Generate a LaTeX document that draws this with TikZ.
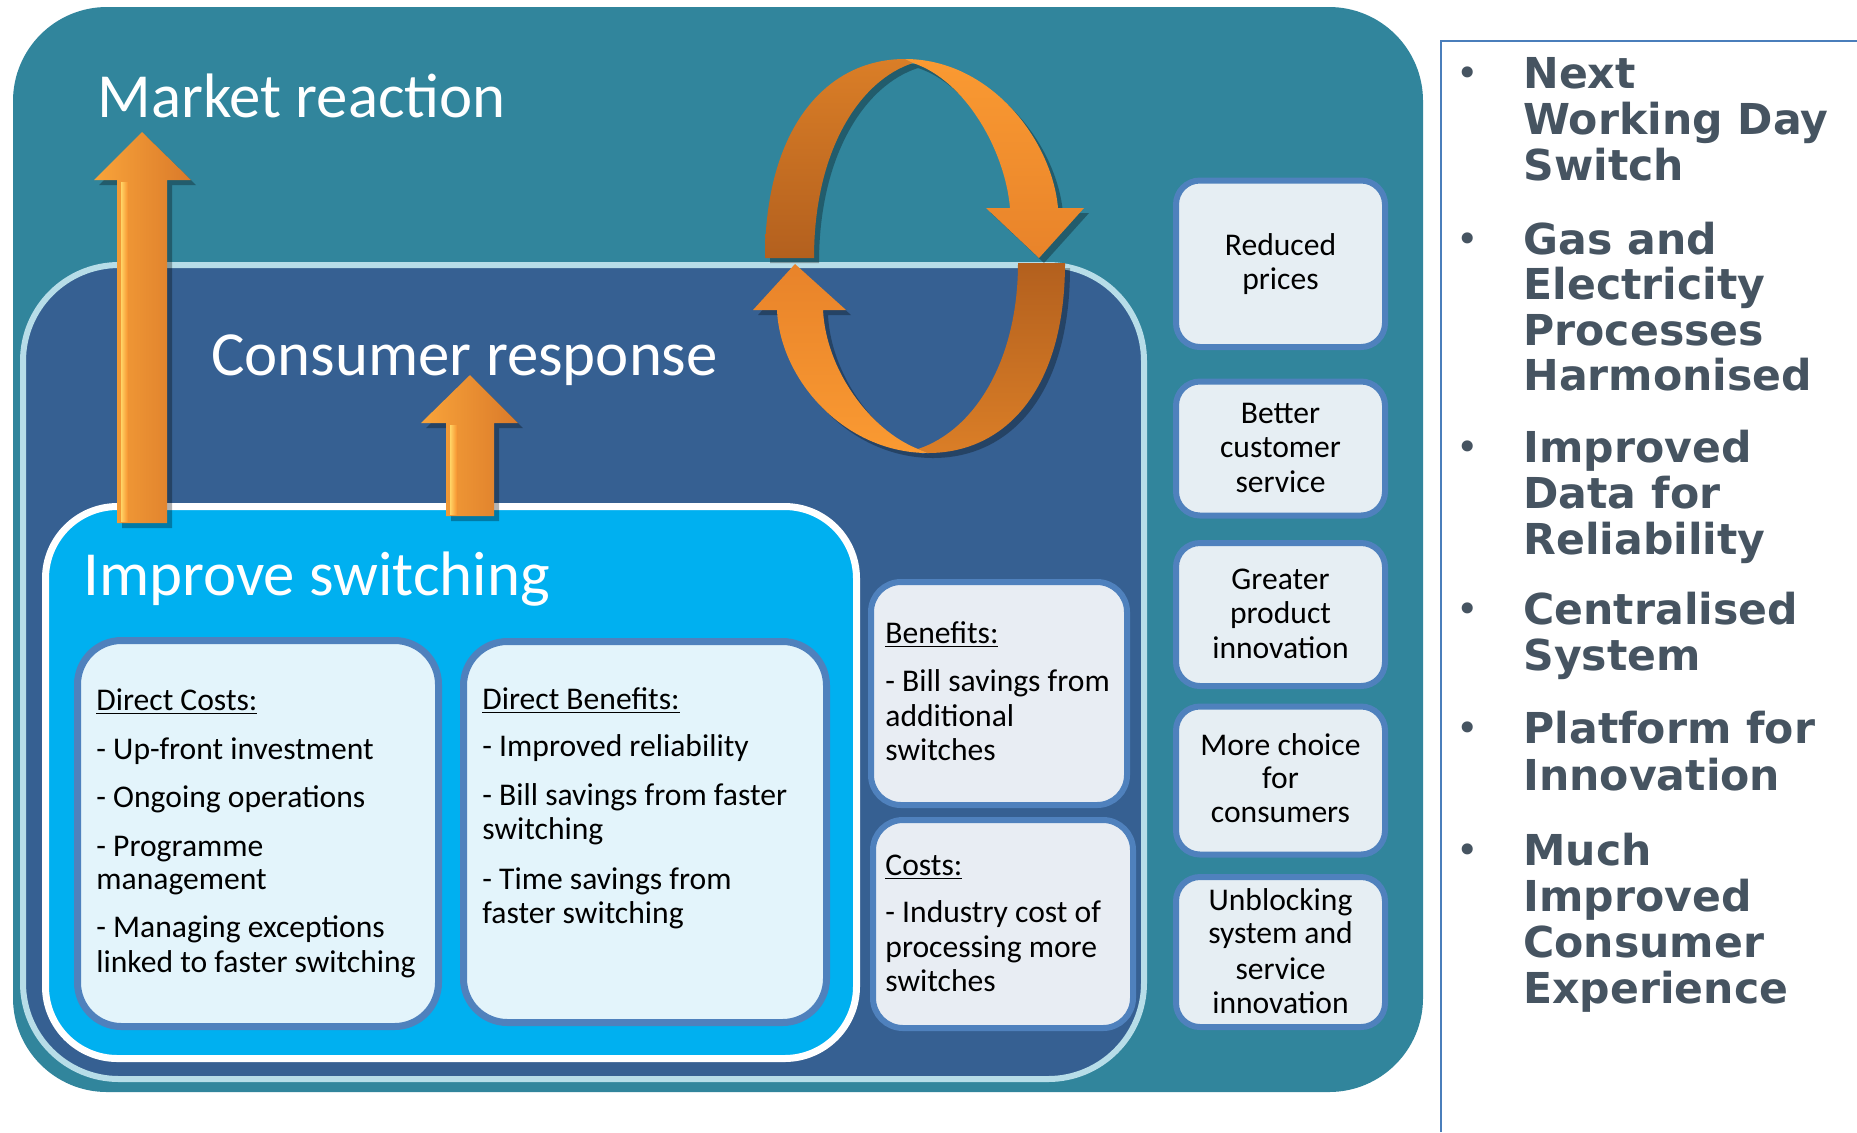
\documentclass[tikz,border=0pt]{standalone}
\usepackage{fontspec}
\setmainfont{Carlito}
\newfontfamily\listfont{DejaVu Sans}
\usetikzlibrary{shadows}

\definecolor{mktteal}{HTML}{31859C}
\definecolor{consfill}{HTML}{366092}
\definecolor{consedge}{HTML}{B7DDE8}
\definecolor{switchfill}{HTML}{00B0F0}
\definecolor{cardedge}{HTML}{4F81BD}
\definecolor{directfill}{HTML}{E3F4FB}
\definecolor{sidefill}{HTML}{E8EDF3}
\definecolor{outfill}{HTML}{E6EEF3}
\definecolor{listgrey}{HTML}{465461}
\definecolor{panelline}{HTML}{4A7EBB}
\definecolor{arrowlight}{HTML}{F9A43A}
\definecolor{arrowglow}{HTML}{FFD466}
\definecolor{arroworange}{HTML}{F7922E}
\definecolor{arrowdark}{HTML}{DA7A2A}
\definecolor{loopdeep}{HTML}{B3601E}
\definecolor{loopmid}{HTML}{DA7E27}
\definecolor{loopbright}{HTML}{FA9A32}
\definecolor{loopwarm}{HTML}{E8832A}

\begin{document}
\begin{tikzpicture}[x=0.5pt,y=-0.5pt,
  cardtext/.style={font=\fontsize{15.8}{18}\selectfont, inner sep=0pt, text=black},
  titletext/.style={font=\fontsize{31.4}{36}\selectfont, text=white, inner sep=0pt, anchor=base west},
  listtext/.style={font=\listfont\bfseries\fontsize{21.3}{23}\selectfont, text=listgrey, inner sep=0pt, anchor=base west},
  bulletmark/.style={font=\listfont\fontsize{19}{19}\selectfont, text=listgrey, inner sep=0pt, anchor=base},
  softshadow/.style={drop shadow={opacity=0.3, shadow xshift=2.5pt, shadow yshift=-2.5pt, fill=black}},
  uparrow/.style={left color=arrowlight, middle color=arroworange, right color=arrowdark, softshadow},
  glowstrip/.style={left color=arrowglow, right color=arroworange},
  directcard/.style={draw=cardedge, line width=3.5pt, fill=directfill, rounded corners=22pt},
  sidecard/.style={draw=cardedge, line width=3pt, fill=sidefill, rounded corners=15pt},
  outcomecard/.style={draw=cardedge, line width=3pt, fill=outfill, rounded corners=12pt}
]
\useasboundingbox (0,0) rectangle (1857,1132);
\fill[white] (0,0) rectangle (1857,1132);

% nested frames
\fill[mktteal, rounded corners=47pt] (13,7) rectangle (1423,1092);
\draw[consedge, fill=consfill, line width=3pt, rounded corners=48pt] (23,265) rectangle (1144,1079);
\draw[white, fill=switchfill, line width=3.5pt, rounded corners=36pt] (45.5,506.5) rectangle (856.5,1058.5);

% inner cards
\path[directcard] (77.5,640.5) rectangle (438.5,1026.5);
\path[directcard] (463.5,641.5) rectangle (826.5,1022.5);
\path[sidecard] (871,582) rectangle (1127,805);
\path[sidecard] (873,820) rectangle (1133,1028);
\path[outcomecard] (1176,180.5) rectangle (1385,347);
\path[outcomecard] (1176,381.5) rectangle (1385,515.5);
\path[outcomecard] (1176,543) rectangle (1385,686);
\path[outcomecard] (1176,706.5) rectangle (1385,854.5);
\path[outcomecard] (1176,877) rectangle (1385,1027);

% upward arrows
\path[uparrow] (117,523) -- (117,180) -- (94,180) -- (142,132) -- (191,180) -- (167,180) -- (167,523) -- cycle;
\path[glowstrip] (121,521) rectangle (128,182);
\path[uparrow] (446,516) -- (446,423) -- (421,423) -- (470,375) -- (518,423) -- (494,423) -- (494,516) -- cycle;
\path[glowstrip] (450,514) rectangle (457,425);

% feedback loop, upper ribbon
\path[top color=loopmid, bottom color=loopdeep, softshadow]
  (765,258) .. controls (765,130) and (825,59) .. (905,59) -- (913,63)
  .. controls (860,80) and (814,150) .. (814,258) -- cycle;
\path[top color=loopbright, bottom color=loopwarm, softshadow]
  (905,59) .. controls (990,59) and (1052,140) .. (1058,208)
  -- (1084,208) -- (1039,258) -- (986,208) -- (1010,208)
  .. controls (1005,150) and (965,80) .. (913,63) -- cycle;
% feedback loop, lower ribbon
\path[top color=loopdeep, bottom color=loopmid, softshadow]
  (1065,263) .. controls (1065,390) and (1005,453) .. (928,453) -- (918,449)
  .. controls (975,430) and (1018,360) .. (1018,263) -- cycle;
\path[top color=loopwarm, bottom color=loopbright, softshadow]
  (928,453) .. controls (845,453) and (780,380) .. (777,310)
  -- (753,310) -- (795,264) -- (846,310) -- (823,310)
  .. controls (826,370) and (870,430) .. (918,449) -- cycle;

% titles
\node[titletext] (market) at (97,117) {Market reaction};
\node[titletext] (consumer) at (211,375) {Consumer response};
\node[titletext] (improve) at (83,595) {Improve switching};

% card texts
\foreach \y/\t [count=\i] in {710/\underline{Direct Costs:}, 759/- Up-front investment, 807/- Ongoing operations, 856/- Programme, 889/management, 937/- Managing exceptions, 972/linked to faster switching}
  \node[cardtext, anchor=base west] (costs\i) at (96,\y) {\t};
\foreach \y/\t [count=\i] in {709/\underline{Direct Benefits:}, 756/- Improved reliability, 805/- Bill savings from faster, 839/switching, 889/- Time savings from, 923/faster switching}
  \node[cardtext, anchor=base west] (bens\i) at (482,\y) {\t};
\foreach \y/\t [count=\i] in {643/\underline{Benefits:}, 691.5/- Bill savings from, 726.5/additional, 760/switches}
  \node[cardtext, anchor=base west] (sideben\i) at (885,\y) {\t};
\foreach \y/\t [count=\i] in {875/\underline{Costs:}, 922/- Industry cost of, 957.5/processing more, 991/switches}
  \node[cardtext, anchor=base west] (sidecost\i) at (885,\y) {\t};

% outcome texts
\foreach \y/\t [count=\i] in {255/Reduced, 289/prices,
    423/Better, 457/customer, 492/service,
    589/Greater, 623/product, 658/innovation,
    755/More choice, 788/for, 822.5/consumers,
    910/Unblocking, 943/system and, 979/service, 1013/innovation}
  \node[cardtext, anchor=base] (outcome\i) at (1280.5,\y) {\t};

% right-hand panel
\draw[panelline, line width=1pt] (1441,1132) -- (1441,41) -- (1857,41);
\foreach \y/\t [count=\i] in {88/Next, 134.5/Working Day, 180.5/Switch,
    254/Gas and, 299.6/Electricity, 345/Processes, 390.5/Harmonised,
    462/Improved, 508.5/Data for, 554.5/Reliability,
    624.5/Centralised, 670/System,
    743.7/Platform for, 790/Innovation,
    865/Much, 911/Improved, 957/Consumer, 1003.6/Experience}
  \node[listtext] (point\i) at (1523,\y) {\t};
\foreach \y [count=\i] in {88,254,462,624.5,743.7,865}
  \node[bulletmark] (dot\i) at (1468,\y-2) {•};
\end{tikzpicture}
\end{document}
